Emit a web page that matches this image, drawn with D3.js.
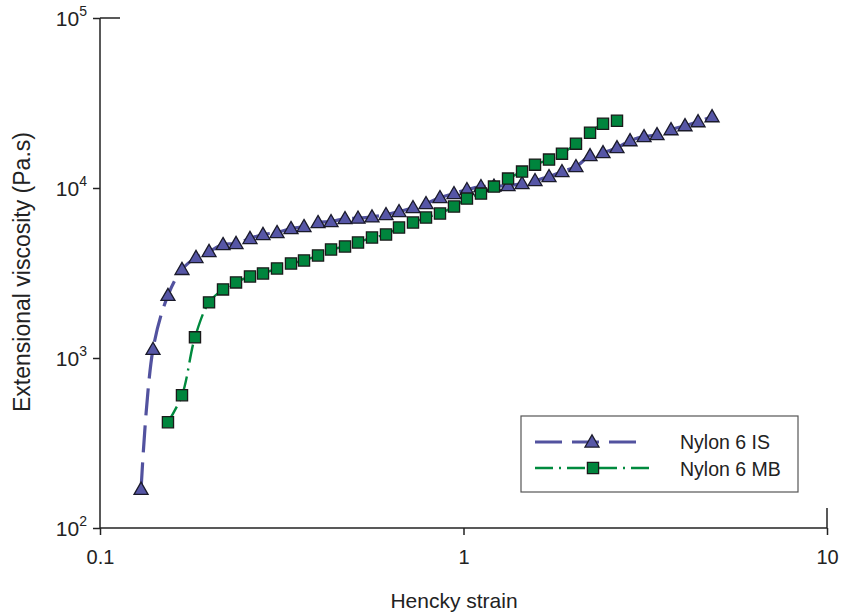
<!DOCTYPE html>
<html><head><meta charset="utf-8">
<script src="https://cdn.jsdelivr.net/npm/d3@7"></script>
<style>body{margin:0;background:#fff}svg{display:block;font-family:"Liberation Sans",Arial,sans-serif}</style>
</head><body>
<svg id="c" width="841" height="613"></svg>
<script>
// Data
const isStrain = [0.1297,0.1399,0.1538,0.1681,0.1837,0.1995,0.2180,0.2367,0.2586,0.2808,0.3069,0.3353,0.3641,0.3979,0.4321,0.4721,0.5126,0.5601,0.6121,0.6647,0.7262,0.7886,0.8616,0.9416,1.022,1.117,1.213,1.326,1.449,1.573,1.719,1.866,2.039,2.229,2.420,2.644,2.872,3.138,3.407,3.723,4.068,4.418,4.828];
const isVisc = [169,1125,2335,3318,3902,4232,4651,4715,5046,5327,5472,5776,5934,6264,6349,6612,6650,6760,6980,7269,7672,8100,8782,9272,9786,10190,10260,10330,10610,11050,11670,12490,13360,15500,16140,17270,18980,20040,20590,22030,23250,24540,26270];
const mbStrain = [0.1538,0.1681,0.1825,0.1995,0.2180,0.2367,0.2586,0.2808,0.3069,0.3353,0.3641,0.3979,0.4321,0.4721,0.5126,0.5601,0.6121,0.6647,0.7262,0.7886,0.8616,0.9416,1.022,1.117,1.213,1.326,1.449,1.573,1.719,1.866,2.039,2.229,2.420,2.644];
const mbVisc = [419,604,1323,2124,2532,2783,3018,3143,3363,3597,3747,4010,4348,4528,4780,5115,5327,5855,6264,6703,7075,7777,8663,9272,10190,11360,12490,13720,14690,15920,18230,21150,23890,24880];
const xTicks = [0.1, 1, 10];
const xTickLabels = ["0.1", "1", "10"];
const yTicks = [100, 1000, 10000, 100000];
const yTickExp = ["2", "3", "4", "5"];
const seriesNames = ["Nylon 6 IS", "Nylon 6 MB"];

const svg = d3.select("#c");
const L = 100, R = 827, T = 18, B = 528;
const x = d3.scaleLog().domain([0.1, 10]).range([L, R]);
const y = d3.scaleLog().domain([100, 100000]).range([B, T]);
const ink = "#222";
const blue = "#52529f", blueFill = "#5656a6", green = "#008a3e", greenFill = "#00853d";

// axes
const xAxis = d3.axisBottom(x).tickValues(xTicks).tickSize(7).tickFormat((d,i)=>xTickLabels[i]);
const gx = svg.append("g").attr("transform", `translate(0,${B})`).call(xAxis);
gx.select(".domain").attr("stroke",ink).attr("stroke-width",1.5).attr("d",`M${L},0H${R}`);
gx.selectAll(".tick line").attr("stroke",ink).attr("stroke-width",1.5);
gx.selectAll(".tick text").attr("font-size",20).attr("fill",ink).attr("dy","0").attr("y",36).attr("font-family","Liberation Sans, Arial, sans-serif");

const yAxis = d3.axisLeft(y).tickValues(yTicks).tickSize(7).tickFormat("");
const gy = svg.append("g").attr("transform", `translate(${L},0)`).call(yAxis);
gy.select(".domain").attr("stroke",ink).attr("stroke-width",1.5).attr("d",`M0,${T}V${B}`);
gy.selectAll(".tick line").attr("stroke",ink).attr("stroke-width",1.5);
// end marks at the top and right of the axes
svg.append("line").attr("x1",L).attr("x2",L+20).attr("y1",y(100000)).attr("y2",y(100000)).attr("stroke",ink).attr("stroke-width",1.5);
svg.append("line").attr("x1",x(10)).attr("x2",x(10)).attr("y1",B).attr("y2",B-20).attr("stroke",ink).attr("stroke-width",1.5);

yTicks.forEach((v,i)=>{
  const t = svg.append("text").attr("x",L-13).attr("y",y(v)+8).attr("text-anchor","end")
    .attr("font-size",21).attr("fill",ink);
  t.append("tspan").text("10");
  t.append("tspan").attr("dy",-10).attr("font-size",14).text(yTickExp[i]);
});

// axis titles
svg.append("text").attr("x",454).attr("y",608).attr("text-anchor","middle").attr("font-size",21).attr("fill",ink).text("Hencky strain");
svg.append("text").attr("transform",`translate(30,272) rotate(-90)`).attr("text-anchor","middle").attr("font-size",23).attr("fill",ink).text("Extensional viscosity (Pa.s)");

// lines
const isData = isStrain.map((s,i)=>[s,isVisc[i]]);
const mbData = mbStrain.map((s,i)=>[s,mbVisc[i]]);
const line = d3.line().x(d=>x(d[0])).y(d=>y(d[1])).curve(d3.curveCatmullRom.alpha(0.5));
svg.append("path").attr("d",line(isData)).attr("fill","none").attr("stroke",blue).attr("stroke-width",3.2).attr("stroke-dasharray","27,10");
svg.append("path").attr("d",line(mbData)).attr("fill","none").attr("stroke",green).attr("stroke-width",2.4).attr("stroke-dasharray","18,6,2,6");

const tri = d3.symbol().type(d3.symbolTriangle).size(85);
const sq = d3.symbol().type(d3.symbolSquare).size(125);
function triangles(g, data){
  g.selectAll(null).data(data).join("path").attr("d",tri)
   .attr("transform",d=>`translate(${x(d[0])},${y(d[1])+1})`)
   .attr("fill",blueFill).attr("stroke","#1a1a2a").attr("stroke-width",1.3);
}
function squares(g, data){
  g.selectAll(null).data(data).join("path").attr("d",sq)
   .attr("transform",d=>`translate(${x(d[0])},${y(d[1])})`)
   .attr("fill",greenFill).attr("stroke","#1a1a1a").attr("stroke-width",1.3);
}
triangles(svg.append("g"), isData);
squares(svg.append("g"), mbData);

// legend
const lg = svg.append("g");
lg.append("rect").attr("x",521).attr("y",416).attr("width",277).attr("height",76).attr("fill","#fff").attr("stroke","#555").attr("stroke-width",1.2);
lg.append("line").attr("x1",535).attr("x2",640).attr("y1",442).attr("y2",442).attr("stroke",blue).attr("stroke-width",3.2).attr("stroke-dasharray","27,10");
lg.append("line").attr("x1",535).attr("x2",650).attr("y1",468).attr("y2",468).attr("stroke",green).attr("stroke-width",2.4).attr("stroke-dasharray","18,6,2,6");
lg.append("path").attr("d",tri).attr("transform","translate(592,443)").attr("fill",blueFill).attr("stroke","#1a1a2a").attr("stroke-width",1.3);
lg.append("path").attr("d",sq).attr("transform","translate(593,468)").attr("fill",greenFill).attr("stroke","#1a1a1a").attr("stroke-width",1.3);
lg.append("text").attr("x",680).attr("y",449).attr("font-size",19.5).attr("fill",ink).text(seriesNames[0]);
lg.append("text").attr("x",680).attr("y",476).attr("font-size",19.5).attr("fill",ink).text(seriesNames[1]);
</script>
</body></html>
